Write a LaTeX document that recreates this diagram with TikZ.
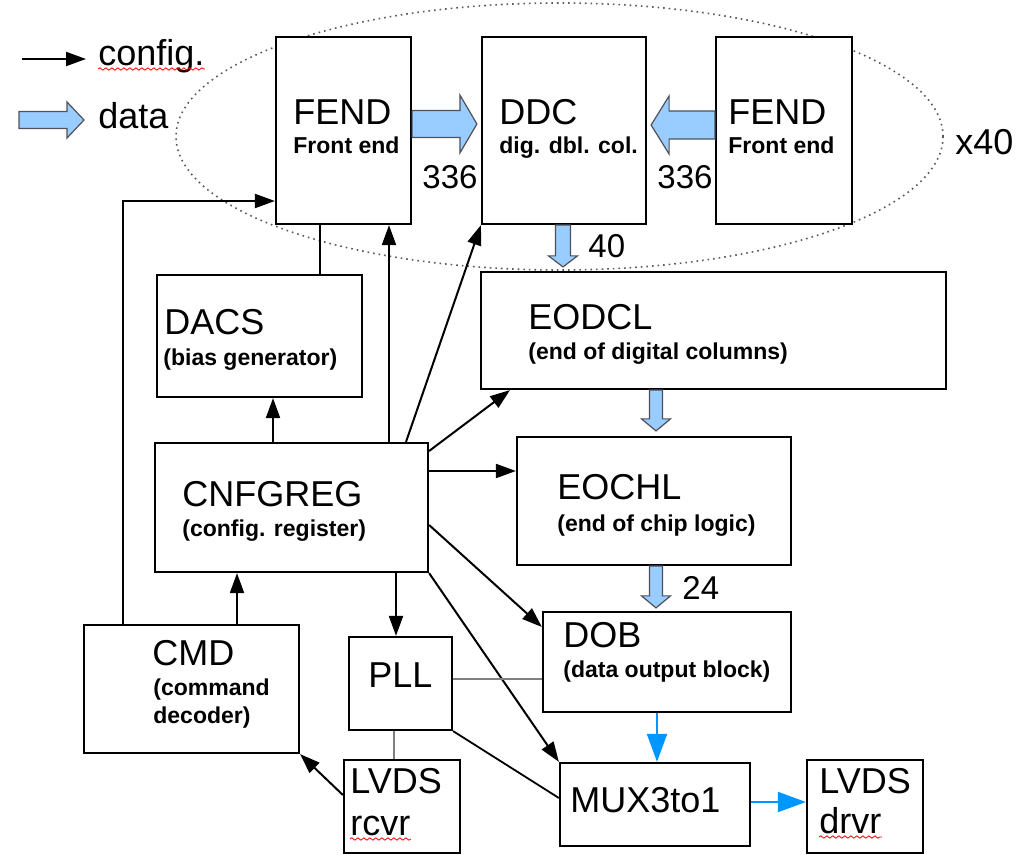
\documentclass[tikz,border=0pt]{standalone}
\usepackage{fontspec}
\setmainfont{Liberation Sans}
\usepackage{xcolor}
\definecolor{Col1}{RGB}{153,204,255}
\definecolor{Col2}{RGB}{0,150,255}
\definecolor{Col5}{RGB}{80,80,90}
\usetikzlibrary{fit}
\usetikzlibrary{calc}
\usetikzlibrary{arrows.meta}
\usetikzlibrary{decorations.pathmorphing}
\tikzstyle{Box}=[draw,fill=white,line width=1.1pt,inner sep=0pt]
\tikzstyle{Big}=[anchor=base west,inner sep=0pt,font=\fontsize{18}{20}\selectfont]
\tikzstyle{Num}=[Big,font=\fontsize{16.5}{18}\selectfont]
\tikzstyle{Small}=[anchor=base west,inner sep=0pt,
font=\bfseries\fontsize{11.5}{13}\selectfont]
\tikzstyle{Edge}=[draw,line width=1pt,-{Triangle[length=10pt,width=7pt]}]
\tikzstyle{Wire}=[draw,line width=0.9pt]
\tikzstyle{Grey}=[draw=gray,line width=0.8pt]
\tikzstyle{Data}=[draw=Col2,line width=1pt,-{Triangle[length=14pt,width=10pt]}]
\tikzstyle{Fat}=[draw=Col5,fill=Col1,line width=0.6pt]
\tikzstyle{Spell}=[draw=red,line width=0.4pt,decorate,
decoration={snake,amplitude=0.6pt,segment length=3pt}]
\newcommand{\FatArrow}[5]{%
    \coordinate(h)at($(#2)!#5!(#1)$);
    \draw[Fat]($(#1)!#3!90:(#2)$)--($(h)!#3!90:(#2)$)--($(h)!#4!90:(#2)$)
        --(#2)--($(h)!#4!-90:(#2)$)--($(h)!#3!-90:(#2)$)
        --($(#1)!#3!-90:(#2)$)--cycle;}

\begin{document}
\begin{tikzpicture}[x=0.5pt,y=-0.5pt]
            \useasboundingbox(0,0)rectangle(1018,855);
            \draw[black!65,dotted,line width=0.8pt](559.5,136.5)
                ellipse[x radius=191.75pt,y radius=66.75pt];
            %
            \node[Box,fit={(276,37)(411,224)}](fendA){};
            \node[Box,fit={(482,37)(646,224)}](ddc){};
            \node[Box,fit={(716,37)(852,224)}](fendB){};
            \node[Box,fit={(481,272)(946,389)}](eodcl){};
            \node[Box,fit={(517,437)(791,565)}](eochl){};
            \node[Box,fit={(543,612)(791,712)}](dob){};
            \node[Box,fit={(560,763)(750,846)}](mux){};
            \node[Box,fit={(807,760)(923,853)}](tx){};
            \node[Box,fit={(344,760)(460,853)}](rx){};
            \node[Box,fit={(349,637)(452,730)}](pll){};
            \node[Box,fit={(84,625)(299,753)}](cmd){};
            \node[Box,fit={(155,443)(428,572)}](cnfg){};
            \node[Box,fit={(157,275)(362,397)}](dacs){};
            %
            \node[Big](lgc)at(98,66){config.};
            \node[Big](lgd)at(98,129){data};
            \node[Big](fendAt)at(293,125){FEND};
            \node[Small](fendAs)at(293,154){Front end};
            \node[Big](ddct)at(499,125){DDC};
            \node[Small](ddcs)at(499,154){dig. dbl. col.};
            \node[Big](fendBt)at(728,125){FEND};
            \node[Small](fendBs)at(728,154){Front end};
            \node[Big](eodclt)at(528,330){EODCL};
            \node[Small](eodcls)at(528,360){(end of digital columns)};
            \node[Big](eochlt)at(557,500){EOCHL};
            \node[Small](eochls)at(557,532){(end of chip logic)};
            \node[Big](dobt)at(563,647){DOB};
            \node[Small](dobs)at(563,677){(data output block)};
            \node[Big](muxt)at(570,812){MUX3to1};
            \node[Big](txt)at(819,793){LVDS};
            \node[Big](txs)at(819,833){drvr};
            \node[Big](rxt)at(350,793){LVDS};
            \node[Big](rxs)at(350,835){rcvr};
            \node[Big](pllt)at(368,687){PLL};
            \node[Big](cmdt)at(152,665){CMD};
            \node[Small](cmds)at(153,695){(command};
            \node[Small](cmdu)at(153,723){decoder)};
            \node[Big](dacst)at(164,335){DACS};
            \node[Small](dacss)at(163,366){(bias generator)};
            \node[Big](cnfgt)at(182,507){CNFGREG};
            \node[Small](cnfgs)at(182,537){(config. register)};
            \node[Num](w1)at(422,189){336};
            \node[Num](w2)at(657,189){336};
            \node[Num](w3)at(588,258){40};
            \node[Num](w4)at(682,600){24};
            \node[Big](rep)at(955,155){x40};
            %
            \coordinate(l1)at(22,59);
            \coordinate(l2)at(86,59);
            \coordinate(l3)at(19,120);
            \coordinate(l4)at(84,120);
            \draw[Edge](l1)--(l2);
            \FatArrow{l3}{l4}{4.25pt}{9pt}{8.5pt}
            \path(fendA.east|-0,124)coordinate(f1)(ddc.west|-0,124)++(-4,0)coordinate(f2);
            \FatArrow{f1}{f2}{6.75pt}{14.5pt}{8.5pt}
            \path(fendB.west|-0,125)coordinate(f3)(ddc.east|-0,125)++(4,0)coordinate(f4);
            \FatArrow{f3}{f4}{7pt}{14.5pt}{9pt}
            \path(ddc.south-|563,0)coordinate(f5)(eodcl.north-|563,0)++(0,-4)coordinate(f6);
            \FatArrow{f5}{f6}{3.75pt}{7.25pt}{5.5pt}
            \path(eodcl.south-|656,0)coordinate(f7)(eochl.north-|656,0)++(0,-5)coordinate(f8);
            \FatArrow{f7}{f8}{3.25pt}{7.25pt}{6pt}
            \path(eochl.south-|656,0)coordinate(f9)(dob.north-|656,0)++(0,-3)coordinate(f10);
            \FatArrow{f9}{f10}{3.25pt}{7.25pt}{6pt}
            %
            \draw[Edge](cmd.north-|123,0)|-(fendA.west|-0,201);
            \draw[Edge](cmd.north-|237,0)--(cnfg.south-|237,0);
            \draw[Edge](cnfg.north-|273,0)--(dacs.south-|273,0);
            \draw[Wire](dacs.north-|320,0)--(fendA.south-|320,0);
            \draw[Edge](cnfg.north-|389,0)--(fendA.south-|389,0);
            \draw[Edge](cnfg.north-|406,0)--(ddc.south west);
            \draw[Edge](cnfg.east|-0,451)--(eodcl.south-|510,0);
            \draw[Edge](cnfg.east|-0,471)--(eochl.west|-0,471);
            \draw[Edge](cnfg.east|-0,525)--(dob.west|-0,627);
            \draw[Edge](cnfg.south east)--(mux.north west);
            \draw[Edge](cnfg.south-|396,0)--(pll.north-|396,0);
            \draw[Edge](rx.west|-0,795)--(cmd.south east);
            \draw[Wire](pll.south east)--(mux.west|-0,798);
            \draw[Grey](pll.east|-0,679)--(dob.west|-0,679);
            \draw[Grey](pll.south-|394,0)--(rx.north-|394,0);
            \draw[Data](dob.south-|657,0)--(mux.north-|657,0);
            \draw[Data](mux.east|-0,802)--(tx.west|-0,802);
            %
            \draw[Spell]([yshift=-1.5pt]lgc.base west)--([yshift=-1.5pt]lgc.base east);
            \draw[Spell]([yshift=-2pt]rxs.base west)--([yshift=-2pt]rxs.base east);
            \draw[Spell]([yshift=-2pt]txs.base west)--([yshift=-2pt]txs.base east);
        \end{tikzpicture}
\end{document}
